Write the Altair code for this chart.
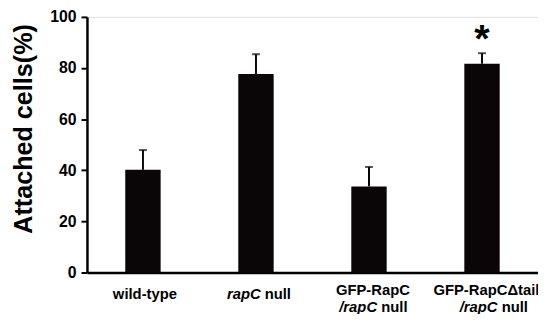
import altair as alt
import pandas as pd

categories = ["wild-type", "rapC null", "GFP-RapC /rapC null", "GFP-RapCΔtail /rapC null"]
means = [40.2, 77.7, 33.7, 81.7]
err_top = [47.9, 85.4, 41.3, 85.8]
y_ticks = [0, 20, 40, 60, 80, 100]
star_text = "*"

FONT = "Liberation Sans"
INK = "#0a0506"
W, H = 457, 259

df = pd.DataFrame({"cat": categories, "mean": means, "top": err_top})

x_enc = alt.X(
    "cat:N",
    sort=categories,
    scale=alt.Scale(paddingInner=0.687, paddingOuter=0.339),
    axis=alt.Axis(labels=False, ticks=False, title=None, domainColor="black",
                  domainWidth=2.5),
)
y_enc = alt.Y(
    "mean:Q",
    scale=alt.Scale(domain=[0, 100], nice=False),
    axis=alt.Axis(
        values=y_ticks, grid=False, title="Attached cells(%)",
        titleFont=FONT, titleFontSize=25.5, titleFontWeight="bold", titleColor="black",
        titleAngle=270, titleAlign="center", titleBaseline="middle",
        titleX=-64, titleY=113,
        labelFont=FONT, labelFontSize=16, labelFontWeight="bold", labelColor="black",
        labelPadding=5, tickSize=6, tickWidth=2, tickColor="black",
        domainColor="black", domainWidth=2.5,
    ),
)

bars = alt.Chart(df).mark_bar(color=INK).encode(x=x_enc, y=y_enc)
rules = alt.Chart(df).mark_rule(color=INK, strokeWidth=2).encode(
    x=alt.X("cat:N", sort=categories), y="mean:Q", y2="top:Q")
caps = alt.Chart(df).mark_tick(color=INK, thickness=2, size=8).encode(
    x=alt.X("cat:N", sort=categories), y="top:Q")
star = alt.Chart(df[df.cat == categories[3]]).mark_text(
    font=FONT, fontSize=40, fontWeight="bold", color="black", baseline="alphabetic",
    dy=-1).encode(x=alt.X("cat:N", sort=categories), y="top:Q", text=alt.value(star_text))


def piece(cat, text, y, dx, align="center", italic=False):
    d = pd.DataFrame({"cat": [cat], "t": [text]})
    return alt.Chart(d).mark_text(
        font=FONT, fontSize=15, fontWeight="bold", color="black",
        fontStyle="italic" if italic else "normal",
        align=align, baseline="alphabetic", dx=dx,
    ).encode(x=alt.X("cat:N", sort=categories), y=alt.value(y), text="t:N")


labels = [
    piece(categories[0], "wild-type", 286, 2),
    piece(categories[1], "rapC", 286, 4.7, "right", True),
    piece(categories[1], "null", 286, 8.8, "left"),
    piece(categories[2], "GFP-RapC", 282, 4),
    piece(categories[2], "/rapC", 299, 8.2, "right", True),
    piece(categories[2], "null", 299, 12.4, "left"),
    piece(categories[3], "GFP-RapCΔtail", 282, 4.5),
    piece(categories[3], "/rapC", 299, 15.7, "right", True),
    piece(categories[3], "null", 299, 19.9, "left"),
]

chart = alt.layer(bars, rules, caps, star, *labels).properties(
    width=W, height=H, autosize="none",
    padding={"left": 80, "top": 7, "right": 0, "bottom": 40},
).configure_view(stroke=None).configure(background="white")

chart.save("out.html", embed_options={"renderer": "svg", "actions": False})
